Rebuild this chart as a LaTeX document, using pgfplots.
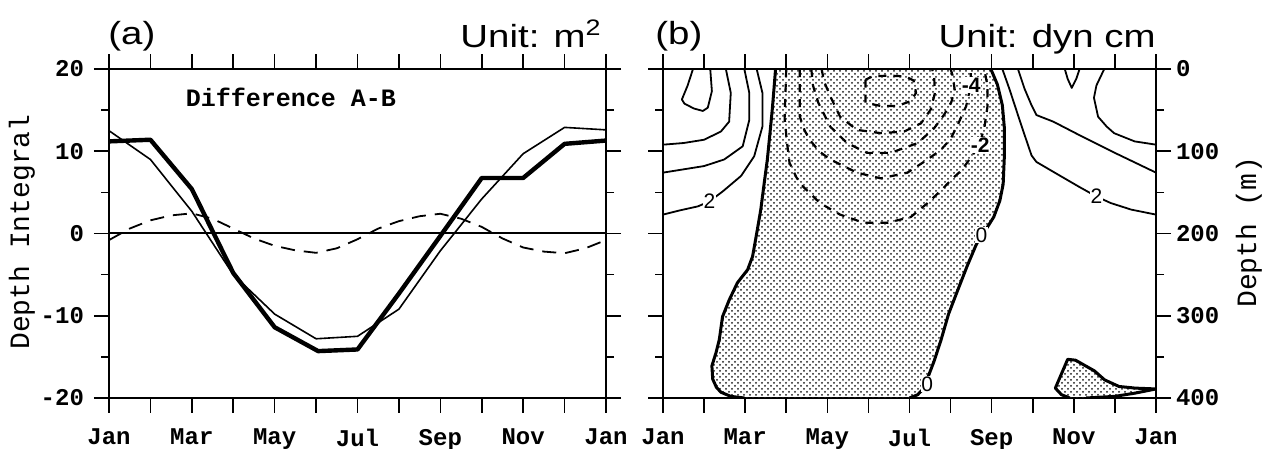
\documentclass[border=0pt]{standalone}
\usepackage{fontspec}
\setmainfont{Liberation Sans}
\setmonofont{Liberation Mono}
\newfontfamily\titlefont{Liberation Sans}[FakeStretch=1.2]
\usepackage{pgfplots}
\pgfplotsset{compat=1.18}
\usetikzlibrary{patterns}
\newcommand{\tk}{\ttfamily\bfseries\fontsize{12}{14}\selectfont}

\begin{document}
\begin{tikzpicture}
\useasboundingbox (0,0) rectangle (633pt,224.5pt);
\pgfplotsset{
  common/.style={
    scale only axis, anchor=south west,
    height=164.5pt,
    xmin=0, xmax=12,
    xtick={0,...,12},
    xticklabels={Jan,,Mar,,May,,Jul,,Sep,,Nov,,Jan},
    tick align=outside,
    major tick length=7.5pt, minor tick length=4pt,
    every tick/.style={black, line width=0.8pt},
    axis line style={line width=1pt},
    tick label style={font=\tk},
    x tick label style={yshift=-4.5pt},
  },
  solidc/.style={black, line width=0.9pt, line join=round},
  dashc/.style={black, line width=1.1pt, dash pattern=on 4pt off 3.5pt, line join=round},
  zeroc/.style={black, line width=1.5pt, line join=round},
}

% ---------------- Panel (a) ----------------
\begin{axis}[common, at={(54.5pt,25.5pt)}, width=248.5pt,
  ymin=-20, ymax=20,
  ytick={-20,-10,0,10,20}, yticklabels={-20,-10,0,10,20},
  minor ytick={-15,-5,5,15},
  y tick label style={xshift=-1.5pt},
]
\addplot[black, line width=1pt] coordinates {(0,0) (12,0)};
\addplot[black, line width=0.9pt, dash pattern=on 7pt off 4.5pt] coordinates {
(0,-0.8) (0.5,0.6) (1,1.6) (1.5,2.2) (2,2.45) (2.5,1.8) (3,0.6) (3.5,-0.6) (4,-1.5)
(4.5,-2.05) (5,-2.35) (5.5,-1.8) (6,-0.7) (6.5,0.6) (7,1.5) (7.5,2.1) (8,2.4)
(8.5,1.8) (9,0.8) (9.5,-0.6) (10,-1.7) (10.5,-2.2) (11,-2.4) (11.5,-1.8) (12,-0.8)};
\addplot[black, line width=0.8pt, line join=round] coordinates {
(0,12.5) (1,9.0) (2,2.7) (3,-5.0) (4,-9.8) (5,-12.8) (6,-12.5) (7,-9.2)
(8,-2.1) (9,4.2) (10,9.7) (11,12.9) (12,12.6)};
\addplot[black, line width=2.2pt, line join=round] coordinates {
(0,11.2) (1,11.4) (2,5.4) (3,-4.8) (4,-11.4) (5.05,-14.3) (6,-14.1) (7,-7.3)
(8,-0.3) (9,6.75) (10,6.75) (11,10.9) (12,11.3)};
\node[font=\ttfamily\bfseries\fontsize{12.5}{14}\selectfont] at (axis cs:4.39,16.6) {Difference A-B};
\end{axis}

% ---------------- Panel (b) ----------------
\begin{axis}[common, at={(331.5pt,25.5pt)}, width=246.5pt,
  ymin=0, ymax=400, y dir=reverse,
  ytick={0,100,200,300,400}, yticklabels={0,100,200,300,400},
  minor ytick={50,150,250,350},
  yticklabel pos=right,
  y tick label style={xshift=-1pt},
]
% shaded regions
\addplot[draw=none, pattern=crosshatch dots, pattern color=black!90] coordinates {
(2.74,0) (2.70,25) (2.66,49) (2.60,80) (2.54,110) (2.46,140) (2.38,171) (2.28,200)
(2.18,228) (2.06,244) (1.81,260) (1.61,281) (1.45,301) (1.37,329) (1.29,345)
(1.19,361) (1.21,377) (1.30,387) (1.41,393) (1.65,398) (1.98,400)
(6.0,400) (6.2,396) (6.35,388) (6.47,372) (6.6,355) (6.77,329) (6.95,298)
(7.15,272) (7.4,240) (7.62,214) (7.75,202) (7.9,192) (8.05,180) (8.2,160)
(8.28,140) (8.31,105) (8.31,72) (8.26,44) (8.14,19) (7.98,0) (2.74,0)};
\addplot[draw=none, pattern=crosshatch dots, pattern color=black!90] coordinates {
(9.55,388) (9.85,353) (10.04,354) (10.5,367) (10.75,378) (11.1,386) (11.5,388)
(12,389) (11.5,394) (11.0,398) (10.3,400) (9.9,400) (9.7,396) (9.55,388)};
% zero contours
\addplot[zeroc] coordinates {
(2.74,0) (2.70,25) (2.66,49) (2.60,80) (2.54,110) (2.46,140) (2.38,171) (2.28,200)
(2.18,228) (2.06,244) (1.81,260) (1.61,281) (1.45,301) (1.37,329) (1.29,345)
(1.19,361) (1.21,377) (1.30,387) (1.41,393) (1.65,398) (1.98,400)};
\addplot[zeroc] coordinates {
(6.0,400) (6.2,396) (6.35,388) (6.47,372) (6.6,355) (6.77,329) (6.95,298)
(7.15,272) (7.4,240) (7.62,214) (7.75,202) (7.9,192) (8.05,180) (8.2,160)
(8.28,140) (8.31,105) (8.31,72) (8.26,44) (8.14,19) (7.98,0)};
\addplot[zeroc] coordinates {
(9.9,400) (9.7,396) (9.55,388) (9.85,353) (10.04,354) (10.5,367) (10.75,378) (11.1,386) (11.5,388)
(12,389) (11.5,394) (11.0,398) (10.3,400)};
% positive contours (left)
\addplot[solidc] coordinates {(0.73,0) (0.6,20) (0.46,37) (0.52,42) (0.75,48) (0.97,51) (1.09,47) (1.19,27) (1.15,0)};
\addplot[solidc] coordinates {(1.53,0) (1.65,29) (1.61,64) (1.41,76) (1.0,86) (0.5,90) (0,92)};
\addplot[solidc] coordinates {(1.98,0) (2.1,29) (2.1,62) (1.94,94) (1.49,110) (1.0,118) (0.5,122) (0,126)};
\addplot[solidc] coordinates {(2.28,0) (2.42,29) (2.42,70) (2.22,106) (1.9,130) (1.45,149) (1.13,161) (0.85,167) (0.4,172) (0,177)};
% positive contours (right)
\addplot[solidc] coordinates {(8.26,0) (8.43,24) (8.64,56) (8.8,80) (8.97,105) (9.09,113) (9.5,125) (10.12,143) (10.55,155) (10.9,163) (11.4,171) (12,177)};
\addplot[solidc] coordinates {(8.64,0) (8.8,24) (8.97,44) (9.09,56) (9.5,64) (10.12,80) (10.6,92) (11.0,102) (11.5,114) (12,126)};
\addplot[solidc] coordinates {(10.74,0) (10.55,20) (10.49,35) (10.59,58) (10.8,70) (10.98,78) (11.48,88) (12,92)};
\addplot[solidc] coordinates {(9.78,0) (9.85,12) (9.95,23) (10.06,12) (10.14,0)};
% negative contours
\addplot[dashc] coordinates {(3.0,0) (2.98,30) (2.96,60) (3.02,90) (3.08,114) (3.25,132) (3.41,143) (3.82,163) (4.31,177) (4.89,187) (5.46,187) (6.03,180) (6.44,163) (6.78,147) (7.05,133) (7.27,123) (7.56,103) (7.7,92) (7.82,72) (7.9,45) (7.9,21) (7.82,0)};
\addplot[dashc] coordinates {(3.33,0) (3.33,30) (3.33,58) (3.45,75) (3.57,86) (3.8,100) (4.07,110) (4.72,126) (5.3,133) (5.95,126) (6.44,110) (6.77,98) (7.0,85) (7.2,65) (7.38,45) (7.47,25) (7.5,0)};
\addplot[dashc] coordinates {(3.61,0) (3.65,20) (3.78,41) (4.07,70) (4.48,90) (4.97,102) (5.54,102) (6.2,90) (6.6,72) (6.85,55) (7.02,40) (7.1,25) (7.05,8) (7.0,0)};
\addplot[dashc] coordinates {(3.86,0) (3.92,15) (4.07,33) (4.31,58) (4.72,74) (5.3,78) (5.87,76) (6.28,66) (6.52,49) (6.62,29) (6.6,10) (6.55,0)};
\addplot[dashc] coordinates {(4.93,13) (4.93,41) (5.3,45) (5.7,45) (6.03,39) (6.16,29) (6.1,14) (5.9,9) (5.5,8) (5.1,9) (4.93,13)};
% labels
\tikzset{clab/.style={font=\fontsize{10.5}{12}\selectfont, fill=white, inner sep=0.4pt}}
\node[clab] at (axis cs:1.13,161) {2};
\node[clab] at (axis cs:10.55,155) {2};
\node[clab] at (axis cs:7.75,202) {0};
\node[clab] at (axis cs:6.43,383) {0};
\node[clab, font=\bfseries\fontsize{10.5}{12}\selectfont] at (axis cs:7.72,92) {-2};
\node[clab, font=\bfseries\fontsize{10.5}{12}\selectfont] at (axis cs:7.5,20) {-4};
\end{axis}

% titles and axis labels
\node[anchor=base west, inner sep=0pt, font=\titlefont\fontsize{16}{19}\selectfont] at (54pt,202pt) {(a)};
\node[anchor=base east, inner sep=0pt, font=\titlefont\fontsize{16}{19}\selectfont] at (301pt,200.5pt) {Unit: m\textsuperscript{2}};
\node[anchor=base west, inner sep=0pt, font=\titlefont\fontsize{16}{19}\selectfont] at (327.5pt,202pt) {(b)};
\node[anchor=base east, inner sep=0pt, font=\titlefont\fontsize{16}{19}\selectfont] at (578pt,200.5pt) {Unit: dyn cm};
\node[rotate=90, font=\ttfamily\fontsize{14}{16}\selectfont] at (11pt,108.5pt) {Depth Integral};
\node[rotate=90, font=\ttfamily\fontsize{14}{16}\selectfont] at (624.5pt,108.5pt) {Depth (m)};
\end{tikzpicture}
\end{document}
